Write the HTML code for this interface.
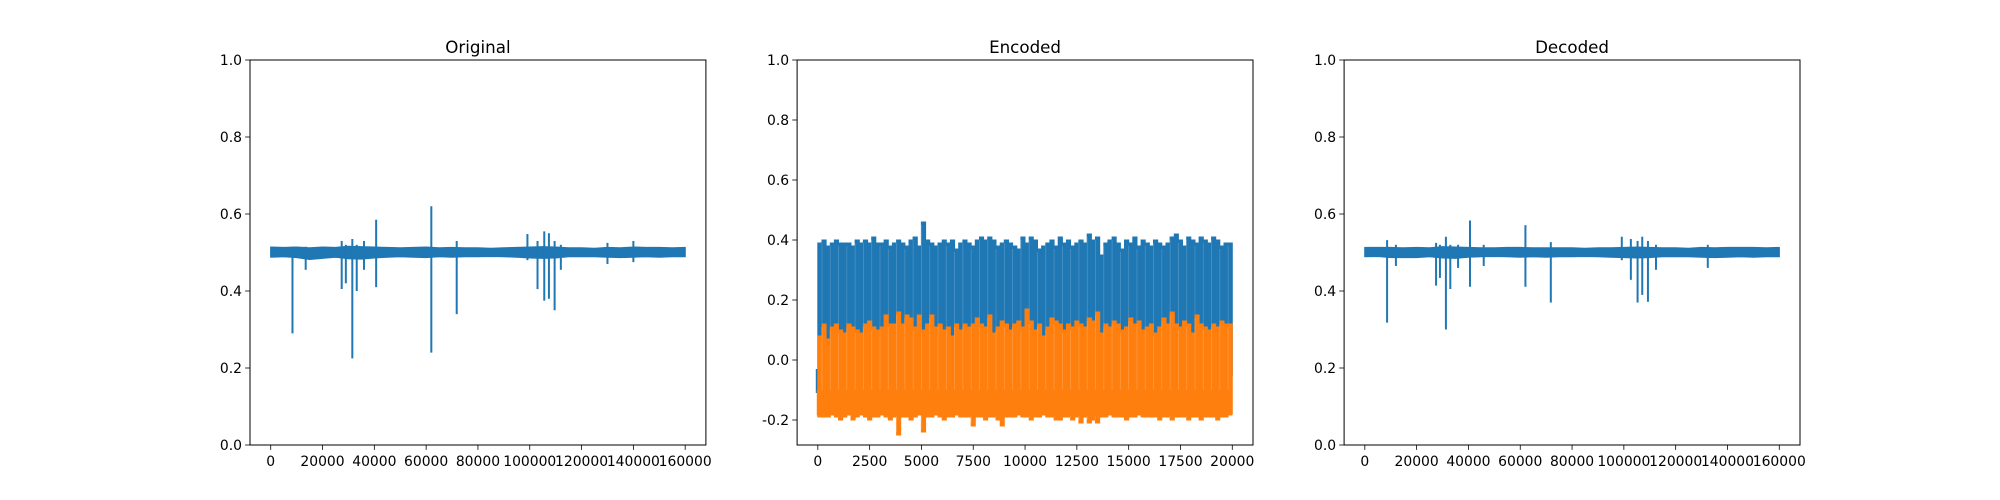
<!DOCTYPE html>
<html><head><meta charset="utf-8"><style>
html,body{margin:0;padding:0;background:#fff;}
svg{display:block;font-family:"DejaVu Sans","Liberation Sans",sans-serif;}
</style></head><body>
<svg id="fig" width="2000" height="500" xmlns="http://www.w3.org/2000/svg"></svg>
<script>
// ---------- DATA ----------
const origX = [0,5000,10000,15000,20000,25000,30000,35000,40000,45000,50000,55000,60000,65000,70000,75000,80000,85000,90000,95000,100000,105000,110000,115000,120000,125000,130000,135000,140000,145000,150000,155000,160000];
const origTop = [0.514,0.513,0.514,0.512,0.514,0.513,0.516,0.515,0.514,0.513,0.512,0.513,0.514,0.512,0.513,0.512,0.512,0.511,0.512,0.513,0.514,0.515,0.514,0.512,0.512,0.511,0.513,0.512,0.514,0.513,0.513,0.512,0.513];
const origBot = [0.488,0.489,0.487,0.482,0.485,0.488,0.484,0.483,0.486,0.488,0.489,0.488,0.487,0.489,0.488,0.489,0.489,0.490,0.489,0.488,0.486,0.485,0.486,0.489,0.489,0.489,0.488,0.487,0.488,0.489,0.488,0.489,0.489];
const origSpikeX = [8400,13500,27400,29000,31500,33200,36000,40700,62000,71800,99100,103000,105600,107400,109600,112000,130000,140000];
const origSpikeHi = [0.515,0.515,0.53,0.52,0.535,0.52,0.53,0.585,0.62,0.53,0.548,0.53,0.555,0.55,0.53,0.52,0.525,0.53];
const origSpikeLo = [0.29,0.455,0.405,0.42,0.225,0.40,0.455,0.41,0.24,0.34,0.48,0.405,0.375,0.38,0.35,0.455,0.47,0.475];

const decX = origX;
const decTop = [0.513,0.513,0.513,0.512,0.513,0.512,0.515,0.514,0.513,0.512,0.512,0.513,0.513,0.512,0.512,0.512,0.512,0.511,0.512,0.512,0.513,0.514,0.513,0.512,0.512,0.511,0.513,0.512,0.513,0.513,0.513,0.512,0.513];
const decBot = [0.489,0.490,0.487,0.487,0.487,0.489,0.486,0.485,0.488,0.489,0.490,0.489,0.488,0.489,0.488,0.489,0.489,0.490,0.489,0.488,0.487,0.486,0.487,0.489,0.489,0.489,0.488,0.487,0.488,0.489,0.488,0.489,0.489];
const decSpikeX = [8600,12000,27500,29000,31300,33000,36000,40600,45900,62000,71800,99200,102700,105300,107100,109300,112400,132400];
const decSpikeHi = [0.532,0.52,0.525,0.52,0.541,0.52,0.52,0.583,0.52,0.571,0.527,0.541,0.535,0.53,0.541,0.53,0.52,0.52];
const decSpikeLo = [0.318,0.465,0.414,0.434,0.30,0.405,0.46,0.411,0.465,0.411,0.37,0.48,0.429,0.37,0.39,0.372,0.455,0.46];

const encBlueTop = [0.39,0.40,0.38,0.39,0.40,0.39,0.39,0.39,0.38,0.40,0.39,0.40,0.39,0.41,0.39,0.39,0.40,0.38,0.39,0.40,0.39,0.38,0.40,0.41,0.38,0.46,0.40,0.39,0.38,0.39,0.40,0.39,0.40,0.37,0.39,0.40,0.39,0.38,0.40,0.41,0.40,0.41,0.40,0.38,0.39,0.40,0.39,0.38,0.37,0.41,0.39,0.41,0.40,0.37,0.38,0.39,0.40,0.38,0.41,0.39,0.40,0.38,0.39,0.40,0.39,0.42,0.40,0.41,0.35,0.39,0.40,0.41,0.39,0.37,0.40,0.39,0.41,0.38,0.40,0.39,0.38,0.40,0.39,0.38,0.39,0.41,0.42,0.40,0.38,0.41,0.40,0.39,0.41,0.40,0.39,0.41,0.40,0.38,0.39,0.39];
const encBlueBot = [-0.05,-0.06,-0.05,-0.04,-0.06,-0.05,-0.05,-0.04,-0.06,-0.05,-0.05,-0.06,-0.04,-0.05,-0.05,-0.06,-0.05,-0.04,-0.06,-0.05,-0.05,-0.06,-0.04,-0.05,-0.05,-0.06,-0.05,-0.04,-0.06,-0.05,-0.05,-0.06,-0.04,-0.05,-0.05,-0.06,-0.05,-0.04,-0.06,-0.05,-0.05,-0.06,-0.04,-0.05,-0.05,-0.06,-0.05,-0.04,-0.06,-0.05,-0.05,-0.06,-0.04,-0.05,-0.05,-0.06,-0.05,-0.04,-0.06,-0.05,-0.05,-0.06,-0.04,-0.05,-0.05,-0.06,-0.05,-0.04,-0.06,-0.05,-0.05,-0.06,-0.04,-0.05,-0.05,-0.06,-0.05,-0.04,-0.06,-0.05,-0.05,-0.06,-0.04,-0.05,-0.05,-0.06,-0.05,-0.04,-0.06,-0.05,-0.05,-0.06,-0.04,-0.05,-0.05,-0.06,-0.05,-0.04,-0.06,-0.05];
const encOrangeTop = [0.08,0.12,0.07,0.11,0.12,0.10,0.09,0.12,0.11,0.10,0.09,0.12,0.13,0.11,0.10,0.11,0.15,0.12,0.12,0.16,0.12,0.15,0.14,0.11,0.15,0.10,0.12,0.15,0.11,0.12,0.10,0.11,0.08,0.12,0.10,0.12,0.11,0.12,0.14,0.12,0.11,0.15,0.09,0.11,0.13,0.12,0.10,0.12,0.13,0.11,0.17,0.13,0.10,0.12,0.08,0.11,0.14,0.13,0.12,0.10,0.12,0.11,0.13,0.12,0.11,0.14,0.13,0.16,0.09,0.12,0.11,0.13,0.12,0.10,0.11,0.14,0.12,0.13,0.10,0.11,0.12,0.09,0.11,0.14,0.12,0.16,0.12,0.11,0.13,0.12,0.09,0.15,0.12,0.11,0.10,0.12,0.11,0.13,0.12,0.12];
const encOrangeBot = [-0.19,-0.19,-0.19,-0.18,-0.19,-0.20,-0.19,-0.18,-0.20,-0.19,-0.18,-0.19,-0.20,-0.19,-0.19,-0.18,-0.19,-0.20,-0.19,-0.25,-0.19,-0.19,-0.20,-0.19,-0.18,-0.24,-0.19,-0.19,-0.18,-0.19,-0.20,-0.19,-0.19,-0.18,-0.19,-0.19,-0.19,-0.22,-0.19,-0.19,-0.20,-0.19,-0.19,-0.20,-0.22,-0.19,-0.19,-0.19,-0.18,-0.19,-0.19,-0.20,-0.19,-0.19,-0.18,-0.19,-0.19,-0.20,-0.20,-0.19,-0.19,-0.20,-0.19,-0.21,-0.19,-0.21,-0.20,-0.21,-0.19,-0.19,-0.18,-0.19,-0.19,-0.19,-0.20,-0.19,-0.19,-0.18,-0.19,-0.19,-0.19,-0.19,-0.20,-0.19,-0.19,-0.20,-0.19,-0.19,-0.19,-0.20,-0.19,-0.19,-0.20,-0.19,-0.19,-0.19,-0.20,-0.19,-0.19,-0.18];
const encStep = 200;

const yTicks01 = [0.0,0.2,0.4,0.6,0.8,1.0];
const yTicksEnc = [-0.2,0.0,0.2,0.4,0.6,0.8,1.0];
const xTicks160 = [0,20000,40000,60000,80000,100000,120000,140000,160000];
const xTicks20 = [0,2500,5000,7500,10000,12500,15000,17500,20000];

// ---------- DRAW ----------
const NS = "http://www.w3.org/2000/svg";
const svg = document.getElementById('fig');
function mk(tag, attrs, parent){
  const e = document.createElementNS(NS, tag);
  for (const k in attrs) e.setAttribute(k, attrs[k]);
  (parent||svg).appendChild(e);
  return e;
}
const BLUE = '#1f77b4', ORANGE = '#ff7f0e';
const TOP = 60, BOT = 445, W = 455.9;

function axes(name, left, xmin, xmax, ymin, ymax, xt, yt, title){
  const g = mk('g', {});
  
  
  const sx = v => left + (v - xmin) / (xmax - xmin) * W;
  const sy = v => BOT - (v - ymin) / (ymax - ymin) * (BOT - TOP);
  const plot = mk('g', {}, g);
  
  
  yt.forEach(v => {
    const y = sy(v);
    mk('line', {x1:left-4.9, x2:left, y1:y, y2:y, stroke:'#000', 'stroke-width':0.8}, g);
    const t = mk('text', {x:left-8, y:y+5, 'text-anchor':'end', 'font-size':13.9, fill:'#000'}, g);
    
    
    t.textContent = v.toFixed(1);
  });
  xt.forEach(v => {
    const x = sx(v);
    mk('line', {x1:x, x2:x, y1:BOT, y2:BOT+4.9, stroke:'#000', 'stroke-width':0.8}, g);
    const t = mk('text', {x:x, y:BOT+21, 'text-anchor':'middle', 'font-size':13.9, fill:'#000'}, g);
    
    
    t.textContent = String(v);
  });
  const tt = mk('text', {x:left+W/2, y:TOP-7, 'text-anchor':'middle', 'font-size':16.7, fill:'#000'}, g);
  
  
  tt.textContent = title;
  const frame = mk('rect', {x:left, y:TOP, width:W, height:BOT-TOP, fill:'none', stroke:'#000', 'stroke-width':1}, g);
  
  
  return {sx, sy, plot, g};
}

function bandPlot(ax, xs, top, bot, spX, spHi, spLo, name){
  let pts = [];
  xs.forEach((x,i) => pts.push(ax.sx(x).toFixed(1)+','+ax.sy(top[i]).toFixed(1)));
  for (let i = xs.length-1; i >= 0; i--) pts.push(ax.sx(xs[i]).toFixed(1)+','+ax.sy(bot[i]).toFixed(1));
  const p = mk('polygon', {points:pts.join(' '), fill:BLUE, stroke:BLUE, 'stroke-width':1.2, 'stroke-linejoin':'round'}, ax.plot);
  
  
  spX.forEach((x,i) => {
    const l = mk('line', {x1:ax.sx(x), x2:ax.sx(x), y1:ax.sy(spHi[i]), y2:ax.sy(spLo[i]), stroke:BLUE, 'stroke-width':2}, ax.plot);
    
    
  });
}

const ax1 = axes('original-axes', 250, -8000, 168000, 0, 1, xTicks160, yTicks01, 'Original');
bandPlot(ax1, origX, origTop, origBot, origSpikeX, origSpikeHi, origSpikeLo, 'original-series');

const ax2 = axes('encoded-axes', 797.1, -1000, 21000, -0.2833, 1, xTicks20, yTicksEnc, 'Encoded');
function stepArea(ax, top, bot, color, name){
  const pts = [];
  top.forEach((t,i) => {
    pts.push(ax.sx(i*encStep).toFixed(1)+','+ax.sy(t).toFixed(1));
    pts.push(ax.sx((i+1)*encStep).toFixed(1)+','+ax.sy(t).toFixed(1));
  });
  for (let i = bot.length-1; i >= 0; i--) {
    pts.push(ax.sx((i+1)*encStep).toFixed(1)+','+ax.sy(bot[i]).toFixed(1));
    pts.push(ax.sx(i*encStep).toFixed(1)+','+ax.sy(bot[i]).toFixed(1));
  }
  const pl = mk('polygon', {points:pts.join(' '), fill:color, stroke:color, 'stroke-width':1}, ax.plot);
  
  
  top.forEach((t,i) => {
    if (i % 2 === 1) {
      const x = ax.sx(i*encStep);
      const l = mk('line', {x1:x, x2:x, y1:ax.sy(t)+3, y2:ax.sy(bot[i])-3, stroke:'#ffffff', 'stroke-opacity':0.2, 'stroke-width':0.8}, ax.plot);
      
      
    }
  });
}
const b0 = mk('line', {x1:ax2.sx(-50), x2:ax2.sx(-50), y1:ax2.sy(-0.03), y2:ax2.sy(-0.11), stroke:BLUE, 'stroke-width':2}, ax2.plot);


stepArea(ax2, encBlueTop, encBlueBot, BLUE, 'encoded-series-1');
stepArea(ax2, encOrangeTop, encOrangeBot, ORANGE, 'encoded-series-2');
const ob = mk('rect', {x:ax2.sx(-50), y:ax2.sy(-0.10), width:ax2.sx(20000)-ax2.sx(-50), height:ax2.sy(-0.185)-ax2.sy(-0.10), fill:ORANGE}, ax2.plot);



const ax3 = axes('decoded-axes', 1344.1, -8000, 168000, 0, 1, xTicks160, yTicks01, 'Decoded');
bandPlot(ax3, decX, decTop, decBot, decSpikeX, decSpikeHi, decSpikeLo, 'decoded-series');
</script>
</body></html>
